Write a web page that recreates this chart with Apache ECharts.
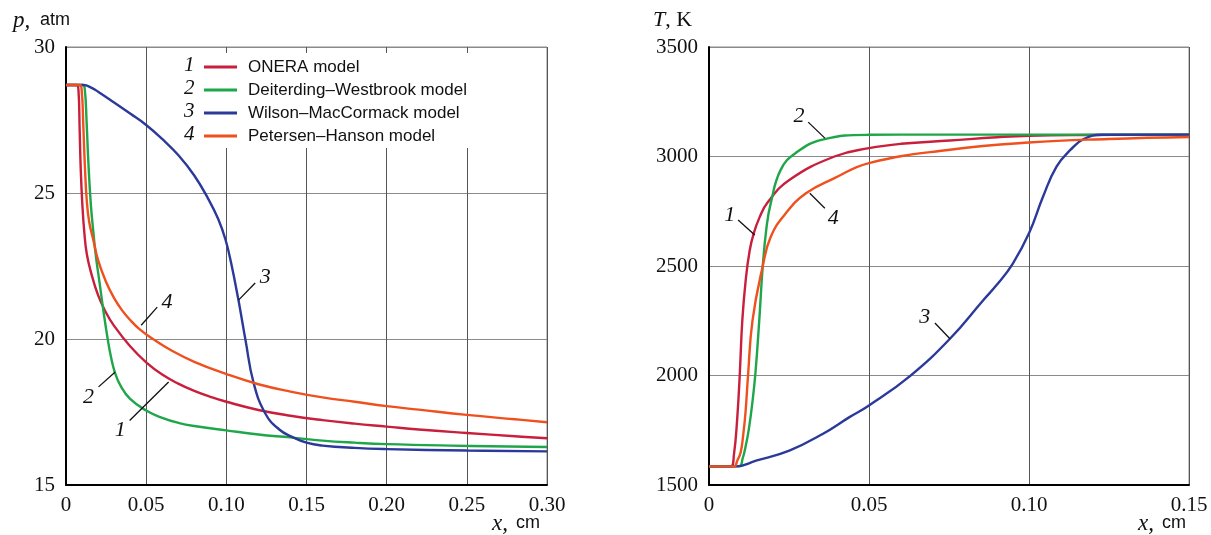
<!DOCTYPE html>
<html><head><meta charset="utf-8">
<script src="https://cdn.jsdelivr.net/npm/echarts@6/dist/echarts.min.js"></script>
<style>html,body{margin:0;padding:0;background:#fff}#c{width:1211px;height:535px}</style>
</head><body><div id="c"></div>
<script>
// ---------- data ----------
const modelNames = ['ONERA model', 'Deiterding\u2013Westbrook model', 'Wilson\u2013MacCormack model', 'Petersen\u2013Hanson model'];
const modelNumbers = ['1', '2', '3', '4'];
const colors = ['#c8203c', '#1fa64a', '#2b3a9a', '#f0501e'];

const xTicksP = [0, 0.05, 0.10, 0.15, 0.20, 0.25, 0.30];
const yTicksP = [15, 20, 25, 30];
const xTicksT = [0, 0.05, 0.10, 0.15];
const yTicksT = [1500, 2000, 2500, 3000, 3500];

// pressure p (atm) vs x (cm)
const pOnera = [[0,28.7],[0.0065,28.7],[0.0078,28.5],[0.0085,27.2],[0.0092,25.8],[0.0102,24.6],[0.0115,23.6],[0.013,22.9],[0.0155,22.3],[0.02,21.5],[0.025,20.9],[0.03,20.45],[0.04,19.75],[0.05,19.2],[0.06,18.78],[0.07,18.47],[0.08,18.22],[0.09,18.02],[0.10,17.85],[0.12,17.57],[0.14,17.37],[0.16,17.22],[0.18,17.1],[0.20,17.0],[0.22,16.9],[0.25,16.78],[0.28,16.67],[0.30,16.6]];
const pDeiterding = [[0,28.7],[0.0105,28.7],[0.0118,28.5],[0.0128,27.5],[0.014,26.0],[0.0155,24.6],[0.017,23.7],[0.0185,22.9],[0.021,21.9],[0.0235,20.9],[0.026,20.0],[0.028,19.4],[0.0305,18.85],[0.034,18.4],[0.04,17.95],[0.05,17.55],[0.06,17.3],[0.07,17.13],[0.08,17.02],[0.10,16.87],[0.12,16.73],[0.14,16.63],[0.16,16.52],[0.18,16.45],[0.20,16.4],[0.24,16.35],[0.30,16.3]];
const pWilson = [[0,28.7],[0.011,28.7],[0.016,28.6],[0.02,28.47],[0.03,28.1],[0.04,27.72],[0.05,27.33],[0.06,26.85],[0.07,26.3],[0.08,25.6],[0.0887,24.8],[0.095,24.1],[0.0995,23.4],[0.103,22.6],[0.1075,21.35],[0.112,19.95],[0.117,18.5],[0.1243,17.45],[0.133,16.9],[0.141,16.65],[0.15,16.45],[0.16,16.35],[0.18,16.27],[0.20,16.23],[0.25,16.18],[0.30,16.15]];
const pPetersen = [[0,28.7],[0.0085,28.7],[0.0098,28.5],[0.0108,27.3],[0.0118,25.9],[0.013,24.7],[0.0145,24.0],[0.017,23.4],[0.02,22.7],[0.025,21.95],[0.03,21.4],[0.035,20.98],[0.04,20.65],[0.046,20.33],[0.055,19.97],[0.065,19.63],[0.08,19.22],[0.10,18.8],[0.12,18.45],[0.14,18.2],[0.16,18.0],[0.18,17.85],[0.20,17.7],[0.22,17.58],[0.25,17.4],[0.28,17.25],[0.30,17.15]];

// temperature T (K) vs x (cm)
const tOnera = [[0,1585],[0.0068,1585],[0.0078,1640],[0.0088,1800],[0.0096,2000],[0.0104,2250],[0.0115,2440],[0.0127,2570],[0.014,2650],[0.0158,2722],[0.0183,2790],[0.0251,2893],[0.0392,3000],[0.05,3038],[0.06,3058],[0.0753,3073],[0.09,3088],[0.10,3095],[0.12,3098],[0.15,3100]];
const tDeiterding = [[0,1585],[0.0094,1585],[0.0105,1620],[0.0115,1680],[0.0125,1760],[0.0135,1870],[0.0145,2010],[0.0157,2250],[0.0168,2500],[0.018,2680],[0.0193,2787],[0.0224,2939],[0.0271,3016],[0.0355,3077],[0.05,3099],[0.07,3100],[0.15,3100]];
const tWilson = [[0,1585],[0.0083,1585],[0.0147,1611],[0.0251,1657],[0.0355,1733],[0.0439,1810],[0.05,1863],[0.0628,1997],[0.0753,2168],[0.0857,2344],[0.09,2415],[0.0949,2510],[0.10,2649],[0.1044,2817],[0.1086,2954],[0.113,3031],[0.1171,3080],[0.1228,3099],[0.15,3100]];
const tPetersen = [[0,1585],[0.0078,1585],[0.0088,1610],[0.0099,1650],[0.0107,1730],[0.0114,1830],[0.0122,2000],[0.0136,2252],[0.0168,2500],[0.0193,2634],[0.024,2741],[0.0303,2832],[0.0392,2901],[0.05,2970],[0.0753,3031],[0.10,3064],[0.125,3080],[0.15,3089]];

// curve annotations (data coordinates): label point, leader start, leader end
const annP = [
  {t:'1', at:[0.0339,16.87], a:[0.0397,17.21], b:[0.064,18.53]},
  {t:'2', at:[0.0141,18.01], a:[0.0203,18.36], b:[0.0307,18.87]},
  {t:'3', at:[0.1243,22.12], a:[0.118,21.92], b:[0.1076,21.33]},
  {t:'4', at:[0.063,21.27], a:[0.0569,21.09], b:[0.0469,20.47]}
];
const annT = [
  {t:'1', at:[0.0065,2733], a:[0.0091,2710], b:[0.0143,2642]},
  {t:'2', at:[0.0281,3186], a:[0.031,3157], b:[0.0362,3084]},
  {t:'3', at:[0.0674,2267], a:[0.0706,2240], b:[0.0753,2168]},
  {t:'4', at:[0.0388,2718], a:[0.0362,2764], b:[0.0315,2832]}
];

// ---------- chart ----------
const SERIF = '"Liberation Serif", "DejaVu Serif", serif';
const SANS = '"Liberation Sans", Arial, sans-serif';
const chart = echarts.init(document.getElementById('c'), null, {renderer: 'canvas'});

function fmtX(v) { return Math.abs(v) < 1e-9 ? '0' : v.toFixed(2); }
function fmtY(v) { return String(Math.round(v)); }

function xAxisCfg(gi, ticks) {
  return {
    gridIndex: gi, type: 'value', min: ticks[0], max: ticks[ticks.length - 1],
    interval: ticks[1] - ticks[0],
    axisLine: {show: true, onZero: false, lineStyle: {color: '#000', width: 2}},
    axisTick: {show: false},
    splitLine: {show: true, lineStyle: {color: '#555', width: 1}},
    axisLabel: {fontFamily: SERIF, fontSize: 21, color: '#111', margin: 10, formatter: fmtX,
      showMinLabel: true, showMaxLabel: true}
  };
}
function yAxisCfg(gi, ticks) {
  return {
    gridIndex: gi, type: 'value', min: ticks[0], max: ticks[ticks.length - 1],
    interval: ticks[1] - ticks[0],
    axisLine: {show: true, onZero: false, lineStyle: {color: '#000', width: 2}},
    axisTick: {show: false},
    splitLine: {show: true, lineStyle: {color: '#8a8a8a', width: 1}},
    axisLabel: {fontFamily: SERIF, fontSize: 21, color: '#111', margin: 11, formatter: fmtY,
      showMinLabel: true, showMaxLabel: true}
  };
}
function mk(name, data, color, idx) {
  return {
    type: 'line', name: name, data: data, xAxisIndex: idx, yAxisIndex: idx,
    symbol: 'none', showSymbol: false, smooth: 0.45,
    lineStyle: {color: color, width: 2.4}, itemStyle: {color: color}, z: 3
  };
}

const pSeries = [pOnera, pDeiterding, pWilson, pPetersen];
const tSeries = [tOnera, tDeiterding, tWilson, tPetersen];
const series = [];
pSeries.forEach((d, i) => series.push(mk(modelNames[i], d, colors[i], 0)));
tSeries.forEach((d, i) => series.push(mk(modelNames[i], d, colors[i], 1)));

const baseGraphics = [
  // white legend background on the left panel
  {type: 'rect', left: 172, top: 53, shape: {width: 306, height: 95}, style: {fill: '#fff'}, z: 1},
  // axis titles
  {type: 'text', left: 13, top: 9, style: {text: 'p,', font: 'italic 23px ' + SERIF, fill: '#111'}, z: 10},
  {type: 'text', left: 40, top: 11, style: {text: 'atm', font: '18px ' + SANS, fill: '#111'}, z: 10},
  {type: 'text', left: 653, top: 9, style: {text: '{a|T}{b|, K}', rich: {a: {font: 'italic 22px ' + SERIF, fill: '#111'}, b: {font: '22px ' + SERIF, fill: '#111'}}}, z: 10},
  {type: 'text', left: 492, top: 512, style: {text: 'x,', font: 'italic 23px ' + SERIF, fill: '#111'}, z: 10},
  {type: 'text', left: 516, top: 514, style: {text: 'cm', font: '18px ' + SANS, fill: '#111'}, z: 10},
  {type: 'text', left: 1138, top: 512, style: {text: 'x,', font: 'italic 23px ' + SERIF, fill: '#111'}, z: 10},
  {type: 'text', left: 1162, top: 514, style: {text: 'cm', font: '18px ' + SANS, fill: '#111'}, z: 10}
];
// legend numbers
modelNumbers.forEach((n, i) => {
  baseGraphics.push({type: 'text', left: 184, top: 55 + i * 23,
    style: {text: n, font: 'italic 21px ' + SERIF, fill: '#111'}, z: 10});
});

chart.setOption({
  animation: false,
  backgroundColor: '#fff',
  grid: [
    {left: 66, right: 664, top: 47, bottom: 50, show: true, borderColor: '#8a8a8a', borderWidth: 1, backgroundColor: 'transparent'},
    {left: 709, right: 22, top: 47, bottom: 50, show: true, borderColor: '#8a8a8a', borderWidth: 1, backgroundColor: 'transparent'}
  ],
  xAxis: [xAxisCfg(0, xTicksP), xAxisCfg(1, xTicksT)],
  yAxis: [yAxisCfg(0, yTicksP), yAxisCfg(1, yTicksT)],
  legend: {
    data: modelNames, orient: 'vertical', left: 204, top: 57, padding: 0,
    itemWidth: 33, itemHeight: 3, icon: 'rect', itemGap: 3, selectedMode: false,
    textStyle: {fontFamily: SANS, fontSize: 17, color: '#111', lineHeight: 20, padding: [0, 0, 0, 6]}
  },
  series: series,
  graphic: baseGraphics
});

// annotation labels and leader lines placed through the axes' own scales
function annGraphics(list, idx) {
  const out = [];
  const finder = {xAxisIndex: idx, yAxisIndex: idx};
  list.forEach(an => {
    const p = chart.convertToPixel(finder, an.at);
    const a = chart.convertToPixel(finder, an.a);
    const b = chart.convertToPixel(finder, an.b);
    out.push({type: 'line', shape: {x1: a[0], y1: a[1], x2: b[0], y2: b[1]}, style: {stroke: '#111', lineWidth: 1.3}, z: 10});
    out.push({type: 'text', x: p[0], y: p[1], style: {text: an.t, font: 'italic 22px ' + SERIF, fill: '#111', align: 'center', verticalAlign: 'middle'}, z: 10});
  });
  return out;
}
chart.setOption({graphic: baseGraphics.concat(annGraphics(annP, 0), annGraphics(annT, 1))});
</script></body></html>
